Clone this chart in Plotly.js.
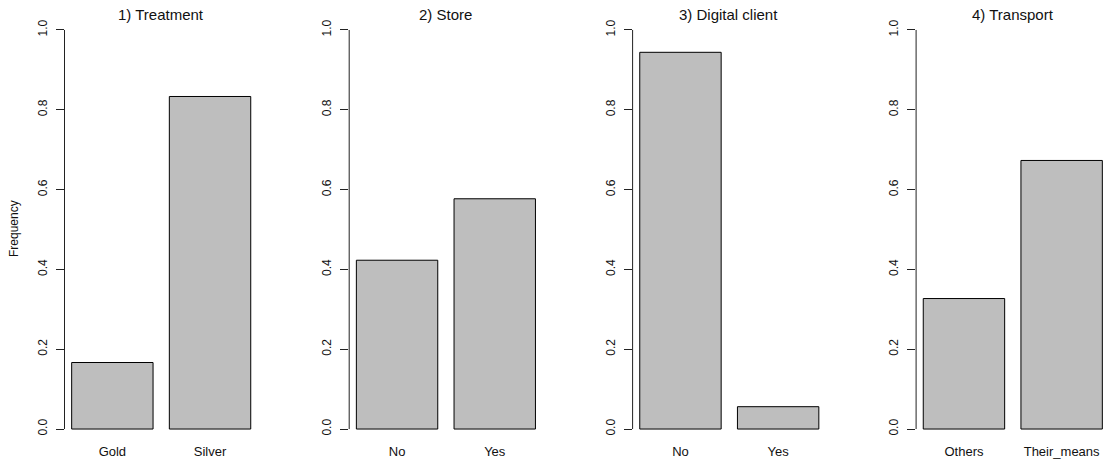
<!DOCTYPE html>
<html>
<head>
<meta charset="utf-8">
<script src="https://cdn.plot.ly/plotly-3.0.1.min.js"></script>
<style>
  html, body { margin: 0; padding: 0; background: #fff; }
  #chart { width: 1105px; height: 461px; }
</style>
</head>
<body>
<div id="chart"></div>
<script>
// Relative frequencies of four customer attributes
const panelTitles = ["1) Treatment", "2) Store", "3) Digital client", "4) Transport"];

const treatmentLevels = ["Gold", "Silver"];
const treatmentFreq   = [0.1667, 0.8333];

const storeLevels = ["No", "Yes"];
const storeFreq   = [0.423, 0.577];

const digitalLevels = ["No", "Yes"];
const digitalFreq   = [0.944, 0.056];

const transportLevels = ["Others", "Their_means"];
const transportFreq   = [0.327, 0.673];

const yTickVals = [0, 0.2, 0.4, 0.6, 0.8, 1.0];
const yTickText = ["0.0", "0.2", "0.4", "0.6", "0.8", "1.0"];

const W = 1105, H = 461;
const FONT = "Liberation Sans, Arial, sans-serif";
const INK = "#111";

// plot regions in pixels (left, right) for each panel
const regions = [[64.5, 258.2], [349.2, 541.4], [632.6, 824.8], [916.1, 1105]];
const plotTop = 14, plotBottom = 445;

const levels = [treatmentLevels, storeLevels, digitalLevels, transportLevels];
const freqs = [treatmentFreq, storeFreq, digitalFreq, transportFreq];

const data = [];
const layout = {
  width: W, height: H,
  margin: {l: 0, r: 0, t: 0, b: 0},
  paper_bgcolor: "#fff",
  plot_bgcolor: "#fff",
  showlegend: false,
  bargap: 1 / 6,
  font: {family: FONT, color: INK, size: 13},
  annotations: [],
  shapes: []
};

for (let i = 0; i < 4; i++) {
  const sfx = i === 0 ? "" : String(i + 1);
  data.push({
    type: "bar",
    x: levels[i],
    y: freqs[i],
    xaxis: "x" + sfx,
    yaxis: "y" + sfx,
    marker: {color: "#BEBEBE", line: {color: "#000", width: 1}},
    hoverinfo: "x+y"
  });

  const [l, r] = regions[i];
  // category spacing corresponds to 1.2 bar-units of ~81.4 px each
  const pxPerCat = 1.2 * 81.4;
  const rangeLeft = -0.49;
  const rangeRight = rangeLeft + (r - l) / pxPerCat;

  layout["xaxis" + sfx] = {
    domain: [l / W, r / W],
    anchor: "y" + sfx,
    type: "category",
    range: [rangeLeft, rangeRight],
    showgrid: false,
    zeroline: false,
    showline: false,
    ticks: "",
    ticklabelstandoff: -3,
    tickfont: {family: FONT, size: 13, color: INK},
    fixedrange: true
  };
  layout["yaxis" + sfx] = {
    domain: [1 - plotBottom / H, 1 - plotTop / H],
    anchor: "x" + sfx,
    range: [-0.04, 1.04],
    tickvals: yTickVals,
    ticktext: yTickText,
    tickangle: -90,
    ticks: "outside",
    ticklen: 8,
    tickwidth: 1,
    tickcolor: "#222",
    ticklabelstandoff: 4,
    tickfont: {family: FONT, size: 12, color: INK},
    showgrid: false,
    zeroline: false,
    showline: false,
    fixedrange: true
  };

  // y axis line spanning only the tick range
  layout.shapes.push({
    type: "line",
    xref: "x" + sfx + " domain", yref: "y" + sfx,
    x0: 0, x1: 0, y0: 0, y1: 1,
    line: {color: "#222", width: 1}
  });

  // panel title, centred over the full plot region
  const titleRight = i === 3 ? 1109.5 : r;
  layout.annotations.push({
    text: panelTitles[i],
    xref: "paper", yref: "paper",
    x: (l + titleRight) / 2 / W,
    y: 1 - 15 / H,
    xanchor: "center", yanchor: "middle",
    showarrow: false,
    font: {family: FONT, size: 15, color: INK}
  });
}

// shared y-axis label
layout.annotations.push({
  text: "Frequency",
  xref: "paper", yref: "paper",
  x: 14 / W, y: 1 - 229 / H,
  xanchor: "center", yanchor: "middle",
  textangle: -90,
  showarrow: false,
  font: {family: FONT, size: 12, color: INK}
});

Plotly.newPlot("chart", data, layout, {displayModeBar: false, staticPlot: true});
</script>
</body>
</html>
